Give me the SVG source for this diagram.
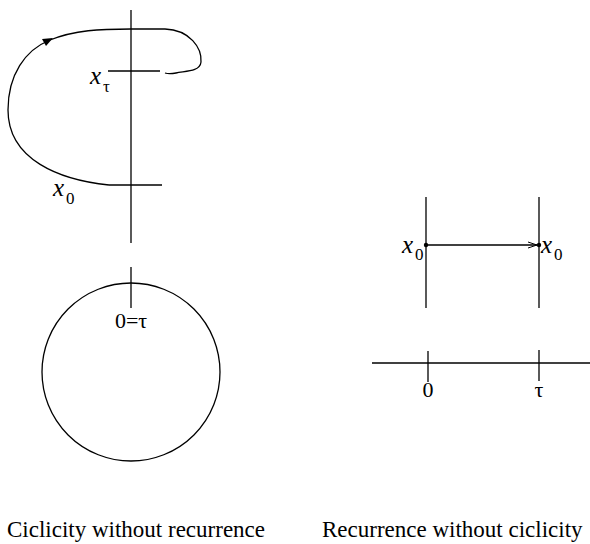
<svg xmlns="http://www.w3.org/2000/svg" width="590" height="544" viewBox="0 0 590 544">
<style>
.ln{stroke:#000;stroke-width:1.3;fill:none}
.t{font-family:"Liberation Serif","Times New Roman",serif;font-size:22px;fill:#000}
.i{font-style:italic;font-size:25px}
.s{font-size:17px}
.cap{font-family:"Liberation Serif","Times New Roman",serif;font-size:23px;fill:#000}
</style>
<defs>
<marker id="ah" markerWidth="10" markerHeight="8" refX="9" refY="4" orient="auto" markerUnits="userSpaceOnUse">
<path d="M0,1 L9,4 L0,7" fill="none" stroke="#000" stroke-width="1"/>
</marker>
</defs>
<g id="left-axis">
<line class="ln" x1="131" y1="10" x2="131" y2="243"/>
<line class="ln" x1="108" y1="71" x2="160" y2="71"/>
<line class="ln" x1="109" y1="185" x2="162" y2="185"/>
<text class="t i" x="90" y="84">x</text><text class="t s" x="103" y="92">τ</text>
<text class="t i" x="53" y="196">x</text><text class="t s" x="66" y="204">0</text>
</g>
<g id="circle">
<circle class="ln" cx="131" cy="372" r="89"/>
<line class="ln" x1="131" y1="267" x2="131" y2="308"/>
<text class="t" x="131" y="328" text-anchor="middle">0=τ</text>
</g>
<g id="right-lines">
<line class="ln" x1="426" y1="197" x2="426" y2="308"/>
<line class="ln" x1="539" y1="197" x2="539" y2="308"/>
<circle cx="426" cy="245" r="2.2" fill="#000"/>
<circle cx="539" cy="245" r="2.2" fill="#000"/>
<text class="t i" x="402" y="253">x</text><text class="t s" x="415" y="260">0</text>
<text class="t i" x="541" y="253">x</text><text class="t s" x="554" y="260">0</text>
</g>
<g id="right-axis">
<line class="ln" x1="372" y1="363" x2="590" y2="363"/>
<line class="ln" x1="428" y1="351" x2="428" y2="382"/>
<line class="ln" x1="539" y1="350" x2="539" y2="381"/>
<text class="t" x="428" y="397" text-anchor="middle">0</text>
<text class="t" x="539" y="397" text-anchor="middle">τ</text>
</g>
<g id="connectors">
<path class="ln" d="M109,185 C60,180 8,160 8,110 C8,75 25,50 50,40"/>
<path d="M42,39 L53,38 L46,46 Z" fill="#000"/>
<path class="ln" d="M50,40 C75,30 100,29 131,29 L165,29 C190,30 202,48 201,62 C200,72 185,71 176,73 C171,74 168,74 165,73"/>
<line class="ln" x1="426" y1="245" x2="537" y2="245" marker-end="url(#ah)"/>
</g>
<text class="cap" x="7" y="537">Ciclicity without recurrence</text>
<text class="cap" x="322" y="537">Recurrence without ciclicity</text>
</svg>
